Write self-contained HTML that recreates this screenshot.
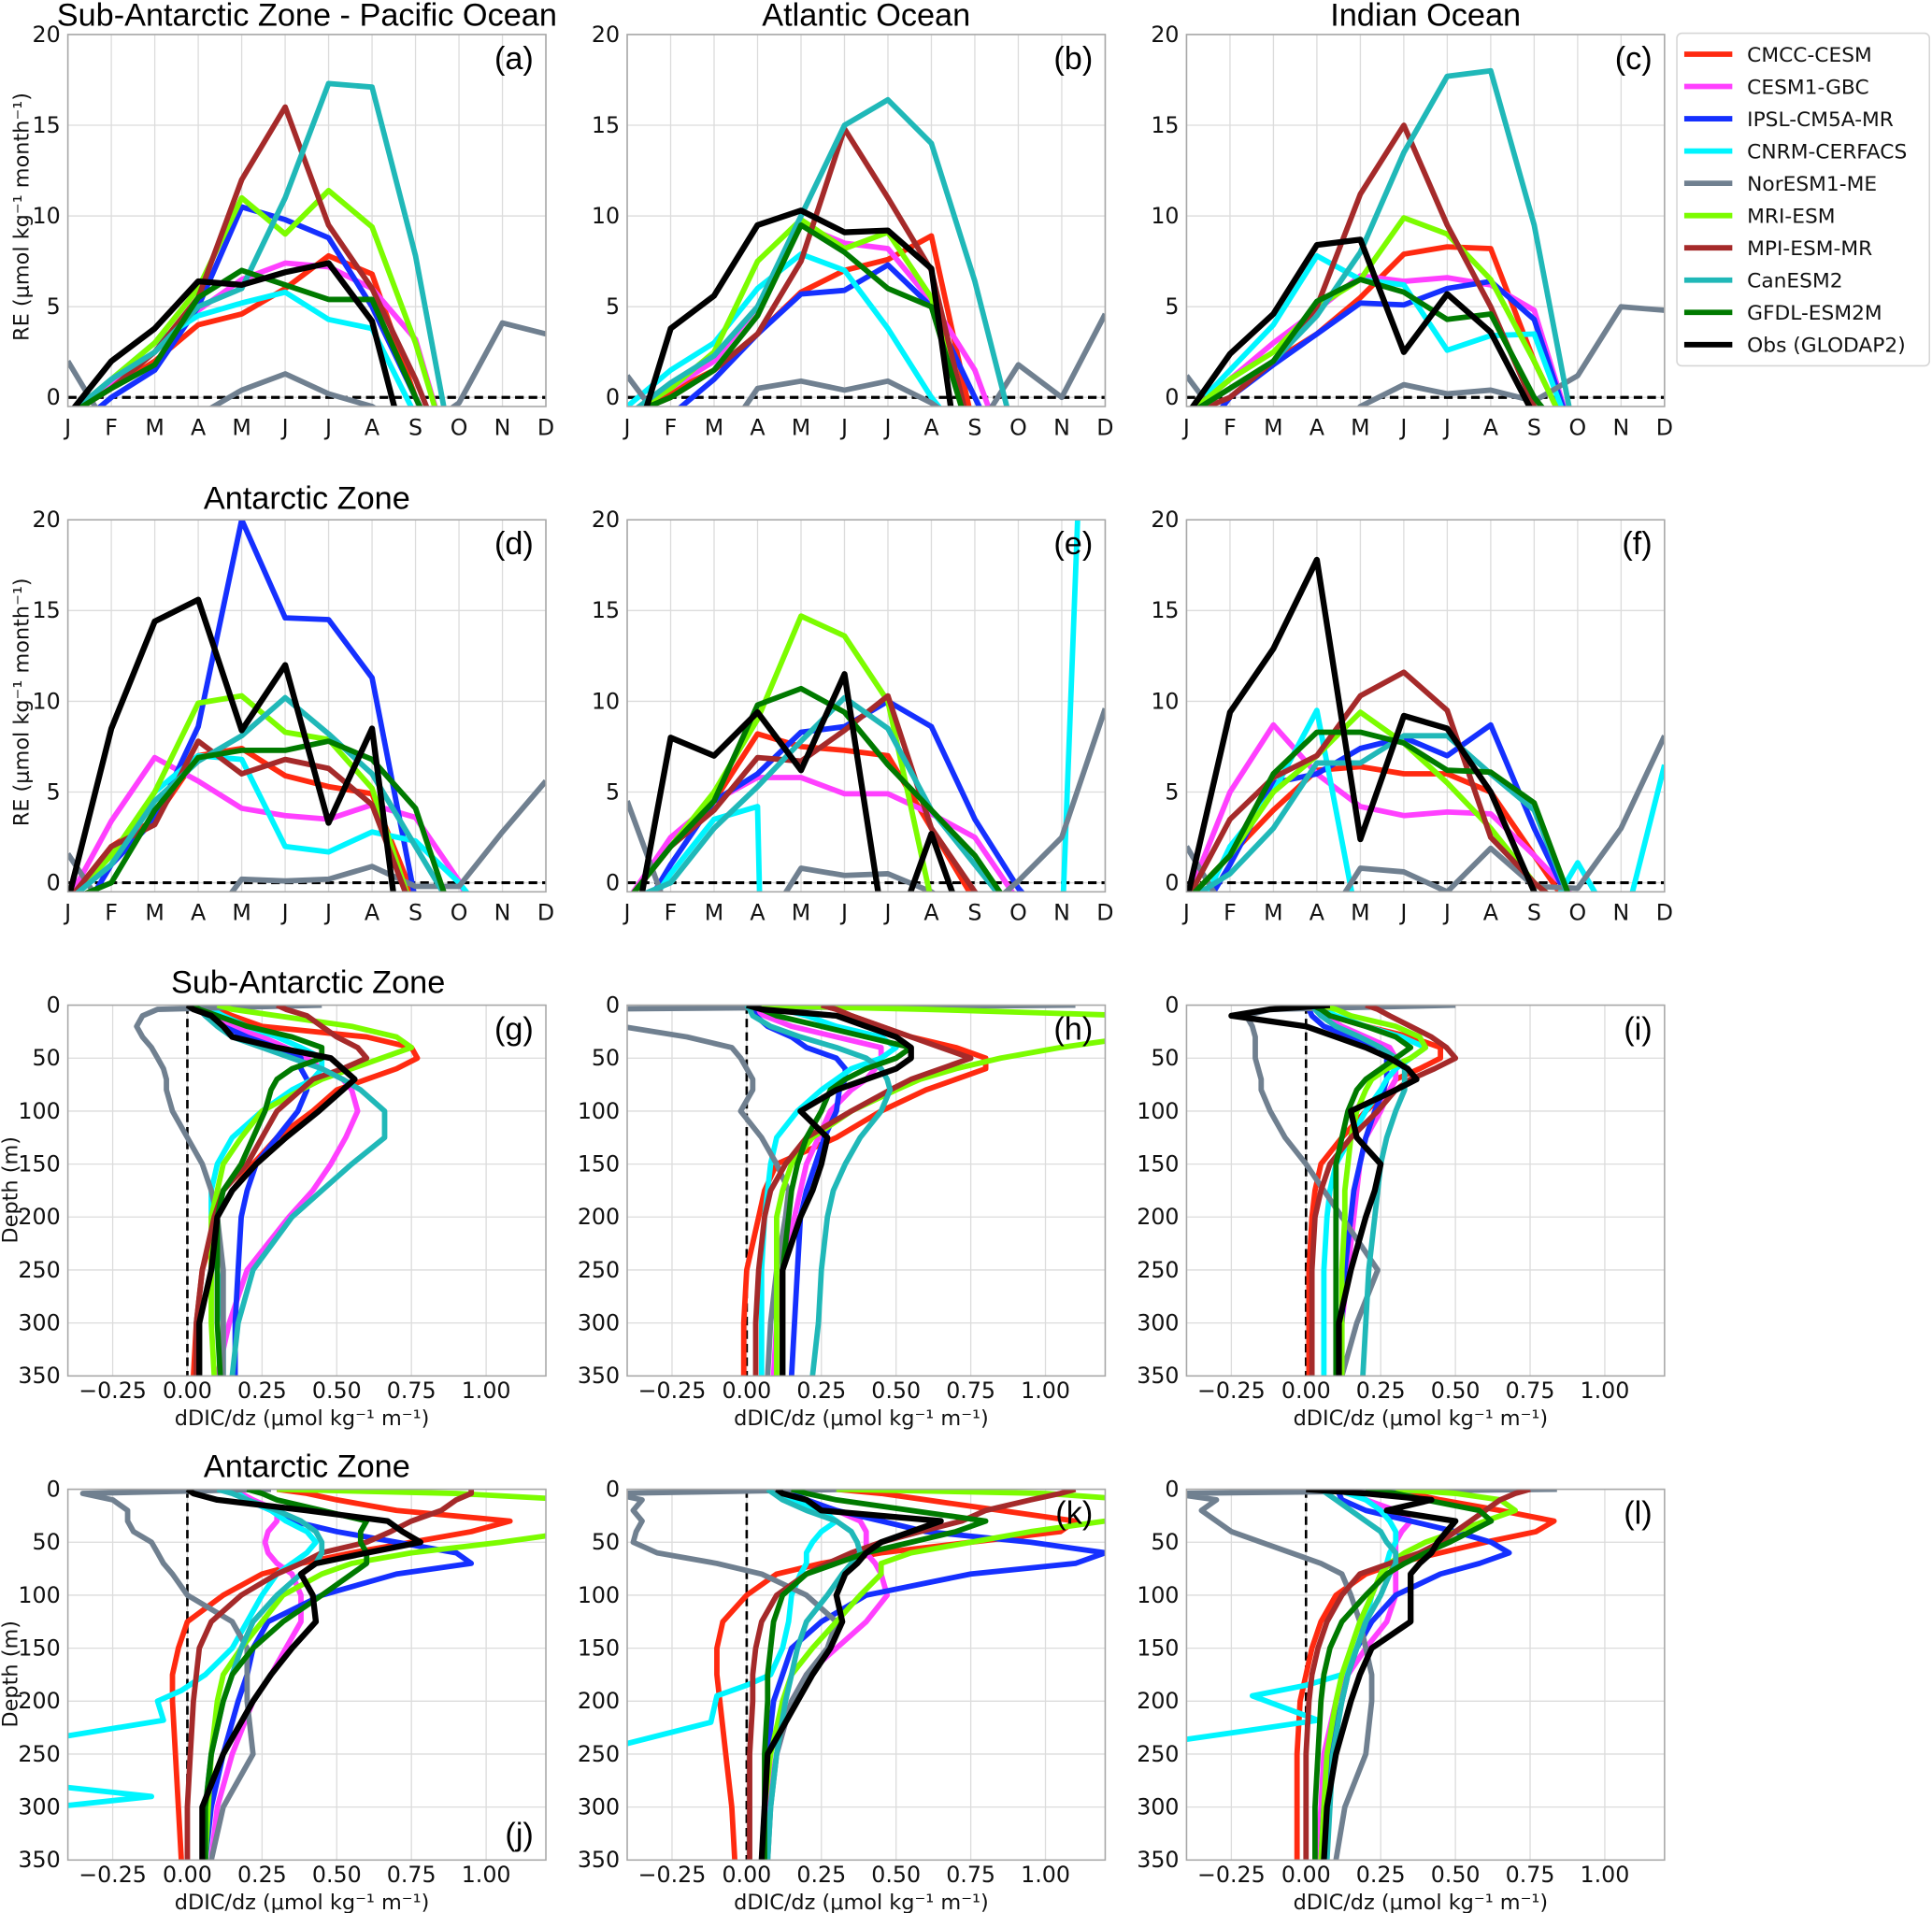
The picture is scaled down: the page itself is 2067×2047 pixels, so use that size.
<!DOCTYPE html>
<html><head><meta charset="utf-8"><title>RE and dDIC/dz panels</title>
<style>
html,body{margin:0;padding:0;background:#fff;width:2067px;height:2047px;overflow:hidden;}
svg{display:block;}
.tk{font-family:"DejaVu Sans","Liberation Sans",sans-serif;font-size:18px;fill:#111;}
.tt{font-family:"Liberation Sans","DejaVu Sans",sans-serif;font-size:26px;fill:#000;}
.lb{font-family:"DejaVu Sans","Liberation Sans",sans-serif;font-size:17px;fill:#111;}
.pl{font-family:"Liberation Sans","DejaVu Sans",sans-serif;font-size:26px;fill:#000;}
.lg{font-family:"DejaVu Sans","Liberation Sans",sans-serif;font-size:16.5px;fill:#111;}
</style></head>
<body>
<svg id="fig" xmlns="http://www.w3.org/2000/svg" width="2067" height="2047" viewBox="0 0 1568 1553"></svg>
<script>
// ---------- data ----------
const models = ["CMCC-CESM","CESM1-GBC","IPSL-CM5A-MR","CNRM-CERFACS","NorESM1-ME","MRI-ESM","MPI-ESM-MR","CanESM2","GFDL-ESM2M","Obs (GLODAP2)"];
const colors = ["#ff2a10","#ff40ff","#1530ff","#00f5ff","#708090","#7cfc00","#a52a2a","#20b8b8","#007a00","#000000"];
const months = ["J","F","M","A","M","J","J","A","S","O","N","D"];
const reTicks = [0,5,10,15,20];
const dxTicks = [-0.25,0,0.25,0.5,0.75,1.0];
const dxTickLabels = ["\u22120.25","0.00","0.25","0.50","0.75","1.00"];
const depthTicks = [0,50,100,150,200,250,300,350];

// monthly RE, order = models
const reA = [
 [-1,0.5,2,4,4.6,6,7.8,6.8,0,-5,-5,-5],
 [-1,0.8,2.5,4.8,6.5,7.4,7.2,6,3.2,-5,-5,-5],
 [-2,0,1.5,5,10.5,9.8,8.8,5,0,-5,-5,-5],
 [-1,1,3,4.5,5.2,5.8,4.3,3.8,-1,-5,-5,-5],
 [2,-2,-3,-1,0.4,1.3,0.2,-0.5,-2,-0.3,4.1,3.5],
 [-1,1,3,6,11,9,11.4,9.4,3,-5,-5,-5],
 [-1,0.5,2.5,5.5,12,16,9.5,6,1,-5,-5,-5],
 [-1,1,2.5,5,6,11,17.3,17.1,7.8,-5,-5,-5],
 [-1,0.5,1.8,5.5,7,6.2,5.4,5.4,0,-5,-5,-5],
 [-1,2,3.8,6.4,6.2,6.9,7.4,4.2,-5,-5,-5,-5]];
const reB = [
 [-1,0.3,1.5,3.5,5.8,7,7.6,8.9,-2,-5,-5,-5],
 [-1,0.5,2,5,9.5,8.5,8.2,5.3,1.5,-5,-5,-5],
 [-3,-1,1,3.5,5.7,5.9,7.3,5,0,-5,-5,-5],
 [-0.5,1.5,3,6,7.9,7,3.8,0,-3,-5,-5,-5],
 [1.2,-2,-3,0.5,0.9,0.4,0.9,-0.3,-2,1.8,0,4.6],
 [-1,0.5,2.5,7.5,9.8,8.2,9.1,5.5,-3,-5,-5,-5],
 [-1,0,1.5,3.5,7.5,14.8,11,7,-3,-5,-5,-5],
 [-1,0.8,2.3,5,10,15,16.4,14,6.4,-3,-5,-5],
 [-1,0,1.5,4.5,9.5,8,6,5,-3,-5,-5,-5],
 [-4,3.8,5.6,9.5,10.3,9.1,9.2,7.1,-10,-10,-10,-10]];
const reC = [
 [-1,0.5,2,3.5,5.5,7.9,8.3,8.2,2,-3,-5,-5],
 [-1,1,3,4.8,6.7,6.4,6.6,6.2,4.8,-3,-5,-5],
 [-3,0,1.8,3.5,5.2,5.1,6,6.4,4.3,-3,-5,-5],
 [-1,1.5,4,7.8,6.5,6.2,2.6,3.4,3.5,-3,-5,-5],
 [1.2,-2,-3,-3,-0.5,0.7,0.2,0.4,-0.2,1.2,5,4.8],
 [-1,1,2.5,5,6.5,9.9,9,6.5,2,-3,-5,-5],
 [-1,0,2,5,11.2,15,9.5,5,-0.5,-3,-5,-5],
 [-1,0.5,2,4.5,8,13.5,17.7,18,9.5,-3,-5,-5],
 [-1,0.5,2,5.3,6.5,5.8,4.3,4.6,0,-3,-5,-5],
 [-1,2.4,4.6,8.4,8.7,2.5,5.7,3.6,-1,-5,-5,-5]];
const reD = [
 [-1,2,3.5,7,7.4,5.9,5.3,4.9,-1,-5,-5,-5],
 [-1,3.4,6.9,5.6,4.1,3.7,3.5,4.3,3.6,0.1,-5,-5],
 [-3,1,3.5,8.6,20,14.6,14.5,11.3,-1,-3,-5,-5],
 [-1,1,5,7,6.8,2,1.7,2.8,2.3,0,-3,-5],
 [1.6,-2,-3,-3,0.2,0.1,0.2,0.9,-0.2,-0.2,2.8,5.6],
 [-1,1.5,5,9.9,10.3,8.3,7.9,5.2,-2,-5,-5,-5],
 [-1,2,3.2,7.8,6,6.8,6.3,4.3,-2,-5,-5,-5],
 [-1,1,4.5,6.7,8.1,10.2,8.2,6,2,-2,-5,-5],
 [-1,0,4,6.9,7.3,7.3,7.8,6.8,4.1,-3,-5,-5],
 [-1,8.5,14.4,15.6,8.4,12,3.3,8.5,-10,-10,-10,-10]];
const reE = [
 [-1,2,4.5,8.2,7.5,7.3,7,3,-1,-3,-5,-5],
 [-1,2.5,4.5,5.8,5.8,4.9,4.9,3.8,2.5,-1,-5,-5],
 [-3,1,4.5,6,8.3,8.6,10,8.6,3.5,-0.3,-3,-5],
 [-3,0.5,3.5,4.2,-100,-100,-100,-100,-100,-3,-3,60],
 [4.5,-2,-3,-3,0.8,0.4,0.5,-0.5,-2,0.1,2.5,9.6],
 [-1,2,5,9,14.7,13.6,10,-1,-5,-5,-5,-5],
 [-1,2,4,6.9,6.7,8.4,10.3,3,-0.5,-3,-5,-5],
 [-1,0,3,5.3,7.8,10.2,8.5,4,1,-2,-5,-5],
 [-1,2,4.5,9.8,10.7,9.4,6.5,4,1.5,-2,-5,-5],
 [-5,8,7,9.4,6.2,11.5,-4,2.7,-4,-10,-10,-10]];
const reF = [
 [-1,1.5,4,6.2,6.4,6,6,5,1.5,-2,-5,-5],
 [-1,5,8.7,6,4.2,3.7,3.9,3.8,1.5,-1,-5,-5],
 [-3,1,5.5,6,7.4,8,7,8.7,3,-2,-5,-5],
 [-3,2,5,9.5,-3,-3,-3,-3,-3,1.1,-3,6.5],
 [2,-2,-3,-3,0.8,0.6,-0.5,1.9,-0.2,-0.3,3,8.1],
 [-1,1.5,5,7,9.4,7.7,5.5,3,0,-2,-5,-5],
 [-1,3.5,5.8,7,10.3,11.6,9.5,2.5,0,-2,-5,-5],
 [-1,0.5,3,6.6,6.6,8.1,8.1,6,4,-2,-5,-5],
 [-1,1.5,6,8.3,8.3,7.7,6.2,6.1,4.4,-2,-5,-5],
 [-1,9.4,12.9,17.8,2.4,9.2,8.5,5,-0.5,-5,-5,-5]];

// depth profiles (dDIC/dz), shared depth grid
const depths = [0,4,10,20,30,40,50,60,70,80,100,125,150,175,200,250,300,350];
const cnrmDepthsJ = [0,10,20,30,40,50,60,70,80,100,125,150,175,190,200,218,235,260,280,290,300,320];
const cnrmDepthsK = [0,10,20,30,40,50,60,70,80,100,125,150,175,185,195,220,240,260];
const cnrmDepthsL = [0,10,20,30,40,50,60,70,80,100,125,150,175,185,195,218,228,240];
const profG = [
 [0.05,0.1,0.15,0.25,0.6,0.75,0.77,0.7,0.6,0.5,0.42,0.3,0.22,0.15,0.1,0.05,0.03,0.02],
 [0.02,0.05,0.08,0.15,0.25,0.33,0.4,0.45,0.52,0.55,0.57,0.53,0.48,0.42,0.34,0.2,0.14,0.1],
 [0.02,0.04,0.06,0.12,0.2,0.3,0.38,0.38,0.4,0.4,0.37,0.3,0.23,0.2,0.18,0.17,0.16,0.16],
 [0.05,0.08,0.12,0.2,0.3,0.38,0.45,0.45,0.42,0.35,0.25,0.15,0.1,0.08,0.08,0.1,0.12,0.12],
 [0.45,-0.1,-0.15,-0.17,-0.15,-0.12,-0.1,-0.08,-0.07,-0.07,-0.05,0,0.05,0.08,0.1,0.12,0.12,0.12],
 [0.1,0.15,0.3,0.55,0.7,0.75,0.65,0.55,0.45,0.38,0.25,0.18,0.12,0.1,0.08,0.08,0.08,0.09],
 [0.3,0.33,0.4,0.45,0.5,0.57,0.6,0.52,0.42,0.38,0.3,0.25,0.2,0.12,0.09,0.05,0.03,0.03],
 [0.02,0.04,0.06,0.1,0.15,0.25,0.35,0.45,0.52,0.58,0.66,0.66,0.55,0.45,0.35,0.22,0.17,0.15],
 [0.02,0.04,0.1,0.2,0.35,0.45,0.45,0.35,0.3,0.28,0.26,0.22,0.18,0.12,0.1,0.1,0.1,0.11],
 [0,0.02,0.08,0.12,0.15,0.3,0.48,0.52,0.56,0.52,0.44,0.33,0.23,0.15,0.1,0.08,0.04,0.04]];
const profH = [
 [0.25,0.3,0.35,0.45,0.55,0.7,0.8,0.8,0.7,0.6,0.45,0.3,0.1,0.06,0.04,0,-0.01,-0.01],
 [0,0.02,0.06,0.15,0.3,0.45,0.45,0.43,0.4,0.35,0.28,0.24,0.2,0.18,0.16,0.12,0.1,0.09],
 [0.02,0.02,0.03,0.07,0.15,0.2,0.3,0.33,0.33,0.31,0.3,0.26,0.23,0.2,0.18,0.17,0.16,0.15],
 [0.07,0.12,0.2,0.3,0.45,0.5,0.45,0.35,0.3,0.25,0.17,0.1,0.08,0.07,0.06,0.05,0.05,0.05],
 [1.1,-0.6,-0.6,-0.42,-0.2,-0.05,-0.02,0,0.02,0.02,-0.02,0.05,0.1,0.14,0.13,0.1,0.08,0.07],
 [0,0.6,1.3,1.5,1.3,1.05,0.85,0.7,0.58,0.5,0.35,0.22,0.15,0.12,0.1,0.1,0.1,0.1],
 [0.25,0.3,0.35,0.45,0.55,0.65,0.75,0.65,0.55,0.48,0.35,0.2,0.13,0.08,0.06,0.04,0.03,0.03],
 [0,0.01,0.02,0.08,0.18,0.3,0.4,0.45,0.47,0.48,0.45,0.38,0.33,0.29,0.27,0.25,0.24,0.22],
 [0.02,0.05,0.1,0.25,0.4,0.55,0.5,0.4,0.33,0.28,0.25,0.2,0.17,0.15,0.14,0.12,0.12,0.12],
 [0,0.05,0.3,0.4,0.5,0.55,0.55,0.5,0.4,0.3,0.18,0.27,0.25,0.22,0.18,0.12,0.12,0.12]];
const profI = [
 [0.02,0.05,0.08,0.2,0.35,0.45,0.45,0.38,0.3,0.28,0.2,0.12,0.05,0.03,0.02,0.01,0.01,0.01],
 [0.02,0.04,0.06,0.12,0.2,0.28,0.3,0.3,0.3,0.28,0.25,0.2,0.18,0.17,0.16,0.14,0.12,0.1],
 [0,0.01,0.02,0.06,0.15,0.25,0.27,0.27,0.27,0.26,0.23,0.2,0.18,0.16,0.15,0.13,0.12,0.12],
 [0.03,0.06,0.1,0.2,0.32,0.4,0.35,0.3,0.27,0.25,0.2,0.15,0.1,0.08,0.07,0.06,0.06,0.06],
 [0.5,-0.12,-0.2,-0.18,-0.17,-0.17,-0.17,-0.16,-0.15,-0.15,-0.12,-0.07,0,0.06,0.12,0.24,0.17,0.12],
 [0.05,0.1,0.15,0.3,0.38,0.4,0.35,0.27,0.22,0.2,0.17,0.15,0.14,0.13,0.13,0.12,0.12,0.12],
 [0.2,0.24,0.28,0.35,0.42,0.47,0.5,0.43,0.35,0.3,0.24,0.15,0.08,0.05,0.03,0.02,0.02,0.02],
 [0.02,0.03,0.05,0.1,0.18,0.25,0.3,0.33,0.33,0.33,0.3,0.27,0.25,0.24,0.23,0.21,0.2,0.19],
 [0.02,0.05,0.08,0.2,0.3,0.35,0.3,0.25,0.2,0.17,0.14,0.12,0.1,0.1,0.1,0.1,0.1,0.1],
 [0.08,-0.12,-0.25,0,0.1,0.2,0.28,0.34,0.37,0.3,0.15,0.17,0.25,0.23,0.2,0.15,0.11,0.11]];
const profJ = [
 [0.3,0.4,0.5,0.7,1.08,0.95,0.75,0.55,0.38,0.25,0.12,0,-0.03,-0.05,-0.05,-0.04,-0.03,-0.02],
 [0.15,0.18,0.22,0.3,0.3,0.27,0.26,0.27,0.3,0.35,0.38,0.38,0.33,0.28,0.22,0.15,0.1,0.08],
 [0.15,0.17,0.2,0.28,0.35,0.5,0.7,0.9,0.95,0.7,0.45,0.27,0.22,0.2,0.17,0.12,0.08,0.06],
 [0.15,0.2,0.28,0.33,0.4,0.43,0.4,0.35,0.3,0.25,0.2,0.15,0.06,-0.02,-0.1,-0.08,-0.45,-0.8,-0.45,-0.12,-0.45,-0.9],
 [0.28,-0.35,-0.25,-0.2,-0.2,-0.18,-0.12,-0.1,-0.08,-0.05,0,0.15,0.2,0.2,0.2,0.22,0.12,0.08],
 [0.3,0.9,1.3,1.6,1.5,1.3,1.05,0.75,0.55,0.45,0.32,0.25,0.18,0.12,0.1,0.08,0.07,0.06],
 [0.95,0.95,0.9,0.85,0.75,0.68,0.6,0.45,0.38,0.3,0.18,0.08,0.04,0.03,0.02,0.01,0,0],
 [0.1,0.15,0.2,0.3,0.38,0.43,0.45,0.45,0.43,0.38,0.3,0.22,0.18,0.15,0.12,0.08,0.06,0.06],
 [0.2,0.25,0.3,0.45,0.6,0.58,0.58,0.6,0.6,0.55,0.45,0.32,0.22,0.15,0.12,0.08,0.06,0.06],
 [0,0.02,0.1,0.4,0.67,0.72,0.78,0.6,0.43,0.38,0.42,0.43,0.35,0.28,0.22,0.12,0.05,0.05]];
const profK = [
 [0.3,0.45,0.6,0.85,1.1,1.05,0.75,0.45,0.25,0.1,0,-0.08,-0.1,-0.1,-0.09,-0.07,-0.05,-0.04],
 [0.1,0.15,0.2,0.3,0.38,0.4,0.4,0.4,0.43,0.45,0.47,0.4,0.3,0.2,0.15,0.1,0.07,0.06],
 [0.1,0.15,0.2,0.3,0.45,0.6,0.95,1.2,1.1,0.75,0.4,0.25,0.15,0.12,0.09,0.07,0.06,0.05],
 [0.1,0.15,0.25,0.3,0.25,0.22,0.2,0.2,0.18,0.15,0.14,0.12,0.08,0.0,-0.1,-0.12,-0.4,-0.8],
 [0.35,-0.45,-0.35,-0.38,-0.35,-0.37,-0.38,-0.3,-0.1,0.05,0.2,0.3,0.27,0.2,0.15,0.1,0.08,0.07],
 [0.3,1.0,1.3,1.4,1.2,0.95,0.75,0.55,0.45,0.45,0.38,0.3,0.22,0.15,0.12,0.08,0.06,0.06],
 [1.1,1.05,0.95,0.8,0.72,0.58,0.45,0.35,0.27,0.2,0.1,0.05,0.03,0.02,0.02,0.01,0.01,0.01],
 [0.07,0.09,0.12,0.2,0.3,0.35,0.37,0.38,0.35,0.32,0.27,0.2,0.17,0.15,0.13,0.1,0.08,0.07],
 [0.15,0.2,0.3,0.55,0.8,0.7,0.55,0.4,0.3,0.2,0.12,0.09,0.08,0.07,0.07,0.06,0.06,0.06],
 [0.1,0.12,0.2,0.25,0.65,0.55,0.45,0.4,0.37,0.33,0.3,0.32,0.28,0.22,0.17,0.07,0.06,0.05]];
const profL = [
 [0.25,0.35,0.45,0.65,0.83,0.77,0.6,0.45,0.3,0.2,0.1,0.05,0.02,0,-0.02,-0.03,-0.03,-0.03],
 [0.1,0.15,0.2,0.3,0.35,0.32,0.3,0.3,0.3,0.3,0.3,0.27,0.2,0.14,0.1,0.06,0.05,0.04],
 [0.1,0.11,0.12,0.2,0.35,0.5,0.62,0.68,0.58,0.45,0.3,0.22,0.17,0.14,0.12,0.08,0.06,0.05],
 [0.1,0.2,0.25,0.28,0.3,0.3,0.28,0.27,0.25,0.22,0.2,0.17,0.12,0.0,-0.18,0.04,-0.2,-0.5],
 [0.84,-0.45,-0.3,-0.35,-0.3,-0.25,-0.15,-0.05,0.05,0.12,0.15,0.18,0.2,0.22,0.22,0.2,0.13,0.1],
 [0.3,0.5,0.65,0.7,0.6,0.5,0.4,0.33,0.28,0.25,0.22,0.18,0.15,0.12,0.1,0.07,0.06,0.05],
 [0.75,0.7,0.65,0.6,0.55,0.5,0.45,0.38,0.28,0.18,0.12,0.07,0.04,0.02,0.01,0,0,0],
 [0.05,0.07,0.1,0.15,0.2,0.25,0.27,0.3,0.3,0.28,0.25,0.2,0.17,0.14,0.12,0.09,0.08,0.07],
 [0.2,0.3,0.4,0.58,0.62,0.55,0.48,0.4,0.33,0.27,0.2,0.12,0.08,0.06,0.05,0.04,0.03,0.03],
 [0,0.2,0.42,0.27,0.5,0.47,0.44,0.42,0.38,0.35,0.35,0.35,0.22,0.18,0.15,0.1,0.07,0.06]];

// ---------- layout ----------
const NS = "http://www.w3.org/2000/svg";
const svg = document.getElementById("fig");
const colX = [55, 509, 963];
const PW = 388;
const LW = 4.4;
function mk(tag, attrs, parent) {
  const e = document.createElementNS(NS, tag);
  for (const k in attrs) e.setAttribute(k, attrs[k]);
  (parent || svg).appendChild(e);
  return e;
}
function txt(s, x, y, cls, anchor, parent) {
  const t = mk("text", {x: x, y: y, class: cls, "text-anchor": anchor || "middle"}, parent);
  t.textContent = s;
  return t;
}
let clipId = 0;

function monthPanel(x0, top, bottom, data, letter) {
  const g = mk("g", {});
  
  
  const yMin = -0.5, yMax = 20;
  const sx = i => x0 + i * PW / 11;
  const sy = v => bottom - (v - yMin) / (yMax - yMin) * (bottom - top);
  for (let i = 0; i < 12; i++) {
    const l = mk("line", {x1: sx(i), x2: sx(i), y1: top, y2: bottom, stroke: "#dcdcdc", "stroke-width": 1}, g);
    
    
    const t = txt(months[i], sx(i), bottom + 23, "tk", "middle", g);
    
    
  }
  reTicks.forEach(v => {
    const l = mk("line", {x1: x0, x2: x0 + PW, y1: sy(v), y2: sy(v), stroke: "#dcdcdc", "stroke-width": 1}, g);
    
    
    const t = txt(String(v), x0 - 6, sy(v) + 6, "tk", "end", g);
    
    
  });
  const cid = "c" + (clipId++);
  const cp = mk("clipPath", {id: cid}, g);
  mk("rect", {x: x0, y: top, width: PW, height: bottom - top}, cp);
  const lines = mk("g", {"clip-path": "url(#" + cid + ")"}, g);
  const zl = mk("line", {x1: x0, x2: x0 + PW, y1: sy(0), y2: sy(0), stroke: "#000", "stroke-width": 2.4, "stroke-dasharray": "7,4"}, lines);
  
  
  data.forEach((s, k) => {
    const pts = s.map((v, i) => sx(i).toFixed(1) + "," + sy(v).toFixed(1)).join(" ");
    const p = mk("polyline", {points: pts, fill: "none", stroke: colors[k], "stroke-width": k === 9 ? LW + 0.4 : LW, "stroke-linejoin": "round"}, lines);
    
    
  });
  const fr = mk("rect", {x: x0, y: top, width: PW, height: bottom - top, fill: "none", stroke: "#a8a8a8", "stroke-width": 1.2}, g);
  
  
  const pl = txt("(" + letter + ")", x0 + PW - 10, top + 28, "pl", "end", g);
  
  
}

function profPanel(x0, top, bottom, data, letter, cyanDepths) {
  const g = mk("g", {});
  
  
  const xMin = -0.4, xMax = 1.2;
  const sx = v => x0 + (v - xMin) / (xMax - xMin) * PW;
  const sy = d => top + d / 350 * (bottom - top);
  dxTicks.forEach((v, i) => {
    const l = mk("line", {x1: sx(v), x2: sx(v), y1: top, y2: bottom, stroke: "#dcdcdc", "stroke-width": 1}, g);
    
    
    const t = txt(dxTickLabels[i], sx(v), bottom + 18, "tk", "middle", g);
    
    
  });
  depthTicks.forEach(d => {
    const l = mk("line", {x1: x0, x2: x0 + PW, y1: sy(d), y2: sy(d), stroke: "#dcdcdc", "stroke-width": 1}, g);
    
    
    const t = txt(String(d), x0 - 6, sy(d) + 6, "tk", "end", g);
    
    
  });
  const cid = "c" + (clipId++);
  const cp = mk("clipPath", {id: cid}, g);
  mk("rect", {x: x0, y: top, width: PW, height: bottom - top}, cp);
  const lines = mk("g", {"clip-path": "url(#" + cid + ")"}, g);
  const zl = mk("line", {x1: sx(0), x2: sx(0), y1: top, y2: bottom, stroke: "#000", "stroke-width": 2, "stroke-dasharray": "7,4"}, lines);
  
  
  data.forEach((s, k) => {
    const dd = (k === 3 && cyanDepths) ? cyanDepths : depths;
    const pts = s.map((v, i) => sx(v).toFixed(1) + "," + sy(dd[i]).toFixed(1)).join(" ");
    const p = mk("polyline", {points: pts, fill: "none", stroke: colors[k], "stroke-width": k === 9 ? LW + 0.4 : LW, "stroke-linejoin": "round"}, lines);
    
    
  });
  const fr = mk("rect", {x: x0, y: top, width: PW, height: bottom - top, fill: "none", stroke: "#a8a8a8", "stroke-width": 1.2}, g);
  
  
  const ly = (letter === "j") ? bottom - 12 : top + 28;
  const pl = txt("(" + letter + ")", x0 + PW - 10, ly, "pl", "end", g);
  
  
  const xl = txt("dDIC/dz (\u03bcmol kg\u207b\u00b9 m\u207b\u00b9)", x0 + PW / 2 - 4, bottom + 40, "lb", "middle", g);
  
  
}

monthPanel(colX[0], 28, 330, reA, "a");
monthPanel(colX[1], 28, 330, reB, "b");
monthPanel(colX[2], 28, 330, reC, "c");
monthPanel(colX[0], 422, 724, reD, "d");
monthPanel(colX[1], 422, 724, reE, "e");
monthPanel(colX[2], 422, 724, reF, "f");
profPanel(colX[0], 816, 1117, profG, "g");
profPanel(colX[1], 816, 1117, profH, "h");
profPanel(colX[2], 816, 1117, profI, "i");
profPanel(colX[0], 1209, 1510, profJ, "j", cnrmDepthsJ);
profPanel(colX[1], 1209, 1510, profK, "k", cnrmDepthsK);
profPanel(colX[2], 1209, 1510, profL, "l", cnrmDepthsL);

[["Sub-Antarctic Zone - Pacific Ocean", 249, 21, "title-pacific"],
 ["Atlantic Ocean", 703, 21, "title-atlantic"],
 ["Indian Ocean", 1157, 21, "title-indian"],
 ["Antarctic Zone", 249, 413, "title-antarctic-re"],
 ["Sub-Antarctic Zone", 250, 806, "title-subantarctic-profile"],
 ["Antarctic Zone", 249, 1199, "title-antarctic-profile"]].forEach(t => {
  const e = txt(t[0], t[1], t[2], "tt", "middle");
  
  
});
[[176, "RE (\u03bcmol kg\u207b\u00b9 month\u207b\u00b9)", "y-axis-title-re-1"],
 [570, "RE (\u03bcmol kg\u207b\u00b9 month\u207b\u00b9)", "y-axis-title-re-2"],
 [966, "Depth (m)", "y-axis-title-depth-1"],
 [1359, "Depth (m)", "y-axis-title-depth-2"]].forEach(a => {
  const xx = a[1].startsWith("RE") ? 23 : 14;
  const e = txt(a[1], xx, a[0], "lb", "middle");
  e.setAttribute("transform", "rotate(-90 " + xx + " " + a[0] + ")");
  
  
});

const lg = mk("g", {});


const lbox = mk("rect", {x: 1361, y: 27, width: 205, height: 270, rx: 4, fill: "#fff", stroke: "#d6d6d6", "stroke-width": 1.2}, lg);


models.forEach((m, k) => {
  const y = 44 + k * 26.2;
  const l = mk("line", {x1: 1367, x2: 1406, y1: y, y2: y, stroke: colors[k], "stroke-width": 4.4}, lg);
  
  
  const t = txt(m, 1418, y + 6, "lg", "start", lg);
  
  
});
</script>
</body></html>
